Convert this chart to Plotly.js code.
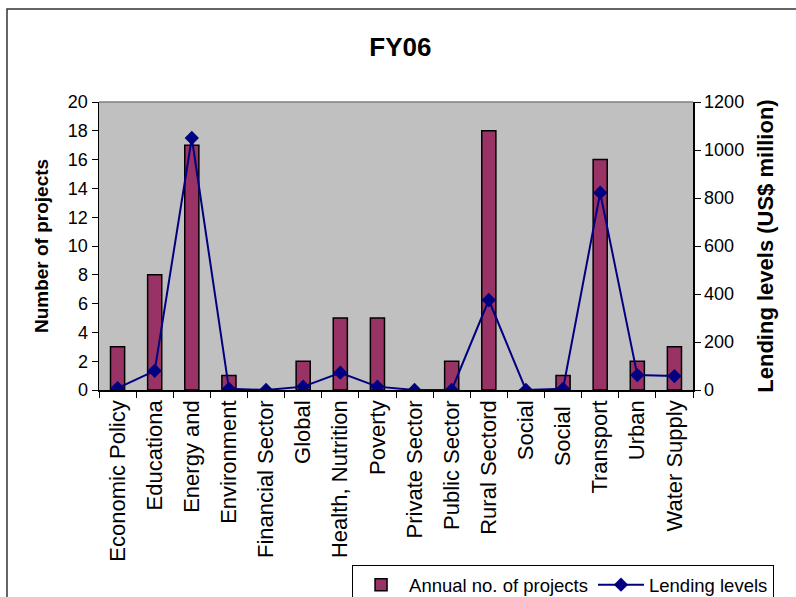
<!DOCTYPE html>
<html>
<head>
<meta charset="utf-8">
<script src="https://cdn.plot.ly/plotly-3.0.1.min.js"></script>
<style>
html,body{margin:0;padding:0;background:#fff;}
#chart{width:796px;height:597px;}
</style>
</head>
<body>
<div id="chart"></div>
<script>
var categories = ["Economic Policy","Educationa","Energy and","Environment","Financial Sector","Global","Health, Nutrition","Poverty","Private Sector","Public Sector","Rural Sectord","Social","Social ","Transport","Urban","Water Supply"];
var projects = [3, 8, 17, 1, 0, 2, 5, 5, 0, 2, 18, 0, 1, 16, 2, 3];
var lending = [8, 80, 1050, 5, 0, 14, 72, 14, 0, 0, 375, 0, 5, 822, 62, 58];
var leftTicks = [0,2,4,6,8,10,12,14,16,18,20];
var rightTicks = [0,200,400,600,800,1000,1200];

var FONT = "Liberation Sans, Arial, sans-serif";

var traces = [
  {
    type: "bar",
    x: categories,
    y: projects,
    name: "Annual no. of projects",
    width: 0.38,
    marker: {color: "#993366", line: {color: "#000000", width: 1.5}},
    yaxis: "y"
  },
  {
    type: "scatter",
    mode: "lines+markers",
    x: categories,
    y: lending,
    name: "Lending levels",
    line: {color: "#000080", width: 2},
    marker: {symbol: "diamond", size: 11, color: "#000080"},
    yaxis: "y2"
  }
];

var layout = {
  width: 796, height: 597,
  margin: {l: 99, r: 103, t: 102, b: 207, pad: 0, autoexpand: false},
  paper_bgcolor: "#ffffff",
  plot_bgcolor: "#C0C0C0",
  font: {family: FONT, size: 18, color: "#000"},
  title: {text: "<b>FY06</b>", font: {family: FONT, size: 26, color: "#000"}, x: 0.503, xanchor: "center", y: 0.921, yanchor: "middle"},
  showlegend: true,
  legend: {
    orientation: "h",
    x: 0.426, xanchor: "left",
    y: -0.608, yanchor: "top",
    bgcolor: "#ffffff",
    bordercolor: "#000000", borderwidth: 1,
    font: {family: FONT, size: 18.5, color: "#000"},
    traceorder: "normal",
    itemwidth: 46,
    tracegroupgap: 0
  },
  bargap: 0,
  xaxis: {
    type: "category",
    categoryorder: "array",
    categoryarray: categories,
    range: [-0.5, 15.5],
    tickangle: -90,
    tickson: "boundaries",
    ticks: "outside", ticklen: 6, tickcolor: "#000", tickwidth: 1,
    showline: true, linecolor: "#000", linewidth: 1.5,
    showgrid: false, zeroline: false,
    tickfont: {family: FONT, size: 22, color: "#000"},
    automargin: false,
    fixedrange: true
  },
  yaxis: {
    range: [0, 20],
    tickvals: leftTicks,
    ticktext: leftTicks.map(String),
    ticks: "outside", ticklen: 6, tickcolor: "#000",
    showline: true, linecolor: "#000", linewidth: 1.5,
    showgrid: false, zeroline: false,
    tickfont: {family: FONT, size: 18, color: "#000"},
    title: {text: "<b>Number of projects</b>", font: {family: FONT, size: 19, color: "#000"}, standoff: 14},
    automargin: false
  },
  yaxis2: {
    range: [0, 1200],
    tickvals: rightTicks,
    ticktext: rightTicks.map(String),
    overlaying: "y",
    side: "right",
    ticks: "outside", ticklen: 6, tickcolor: "#000",
    showline: true, linecolor: "#000", linewidth: 1.5,
    showgrid: false, zeroline: false,
    tickfont: {family: FONT, size: 18, color: "#000"},
    title: {text: "<b>Lending levels (US$ million)</b>", font: {family: FONT, size: 22, color: "#000"}, standoff: 14},
    automargin: false
  },
  shapes: [
    {type: "line", xref: "paper", yref: "paper", x0: 0, x1: 1, y0: 1, y1: 1, line: {color: "#808080", width: 1.5}},
    {type: "rect", xref: "paper", yref: "paper", x0: -0.1549, x1: 1.2, y0: -0.75, y1: 1.3229, line: {color: "#333333", width: 1.5}, layer: "below"}
  ]
};

Plotly.newPlot("chart", traces, layout, {displayModeBar: false, staticPlot: true});
</script>
</body>
</html>
